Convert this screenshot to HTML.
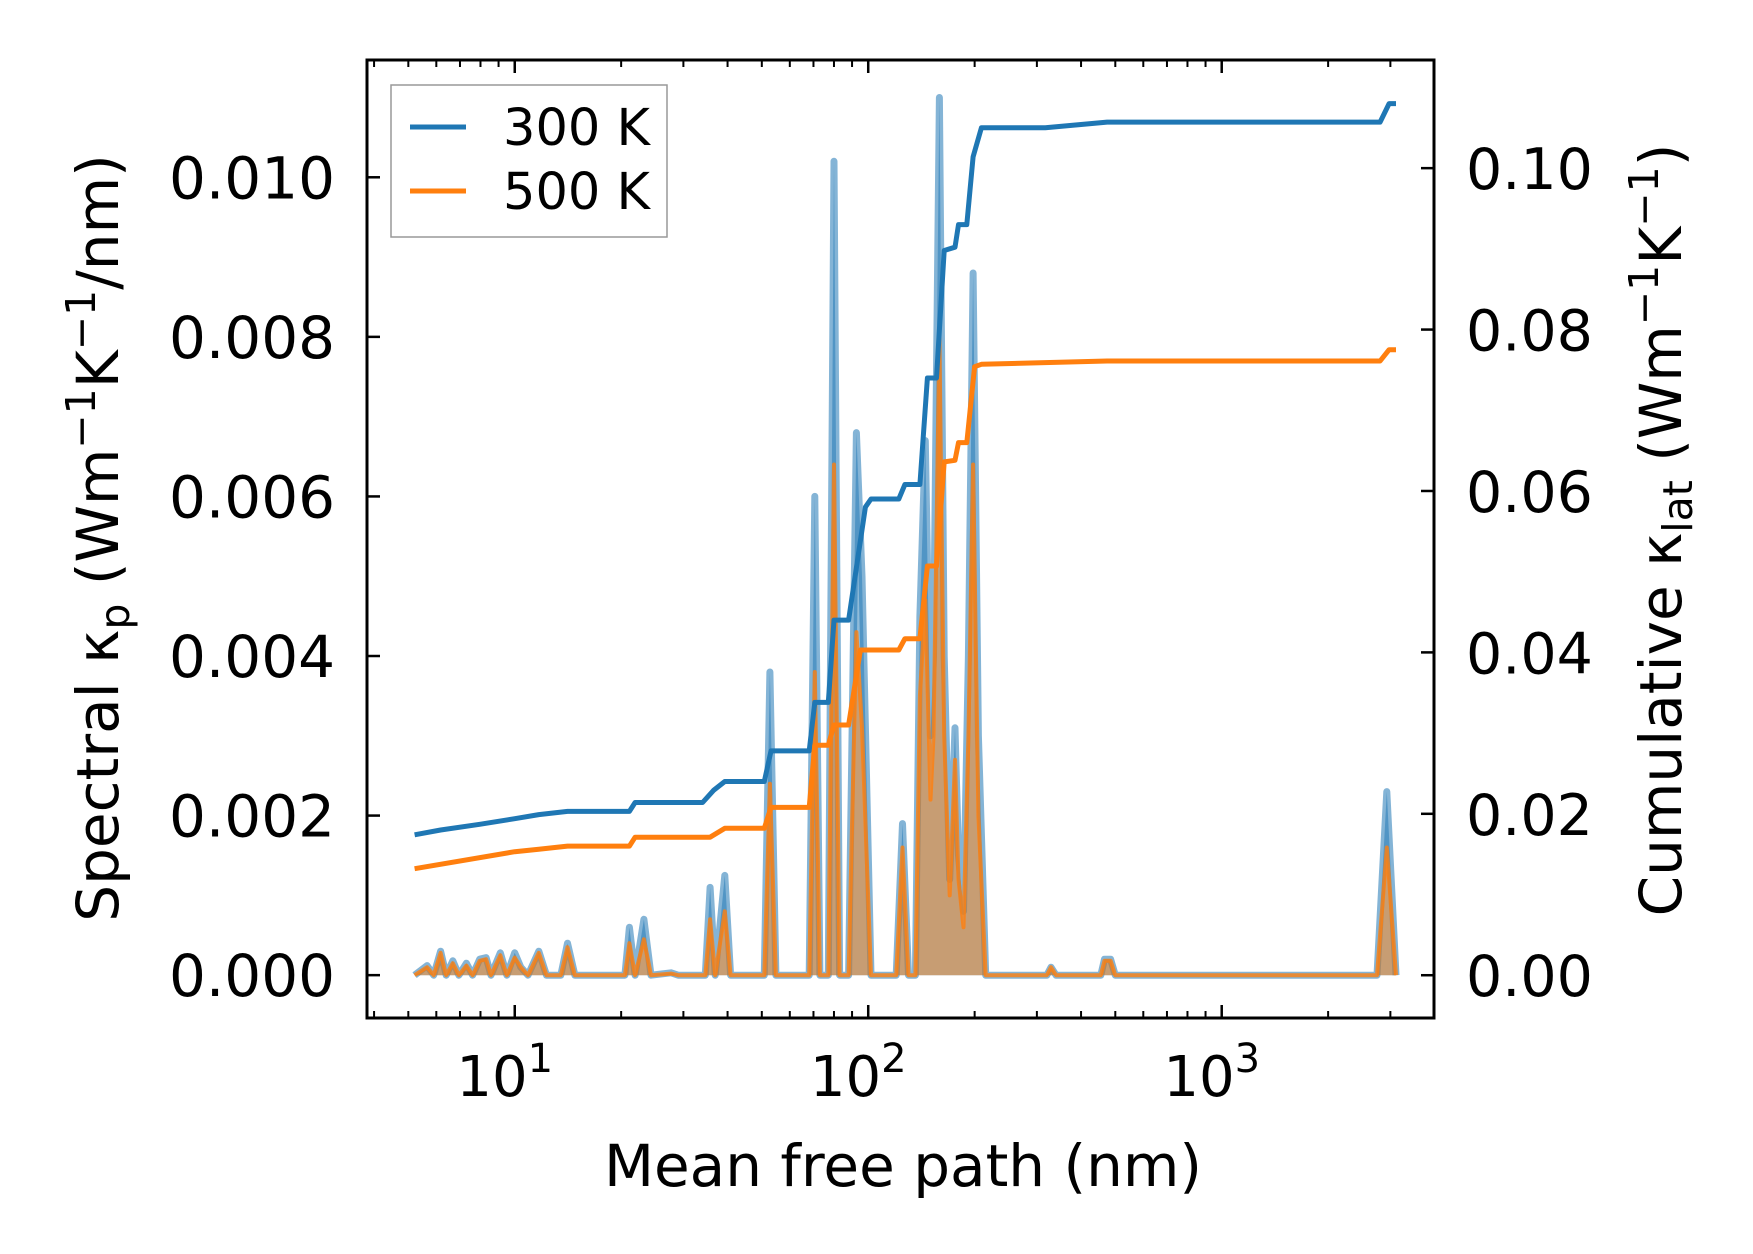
<!DOCTYPE html>
<html><head><meta charset="utf-8"><style>
html,body{margin:0;padding:0;background:#fff}
svg{display:block}
text{font-family:"DejaVu Sans","Liberation Sans",sans-serif;fill:#000}
</style></head><body>
<svg id="chart" width="1753" height="1254" viewBox="0 0 1753 1254" xmlns="http://www.w3.org/2000/svg">
<g id="marks"></g>
<g id="axes"></g>
</svg>
<script>
const specMfp=[5.21,5.65,5.9,6.17,6.4,6.68,6.95,7.3,7.6,7.96,8.3,8.57,9.1,9.5,10,10.4,10.9,11.7,12.3,13.5,14.1,14.8,20.5,21.1,21.9,23.2,24.3,27.7,29,34.6,35.7,36.9,39.3,40.8,50.8,52.7,54.8,68.1,70.6,73,77.1,80,83,88,92.6,96,101.8,106,120,125,130,136,140,145,150,153,159,164,170,176,180,186,192,198,205,215,320,329,340,455,466,485,500,2750,2931,3111];
const spec300=[0,0.00012,0,0.0003,0,0.00018,0,0.00015,0,0.0002,0.00022,0,0.00028,0,0.00028,0.0001,0,0.0003,0,0,0.0004,0,0,0.0006,0,0.0007,0,0.00003,0,0,0.0011,0,0.00125,0,0,0.0038,0,0,0.006,0,0,0.0102,0,0,0.0068,0.005,0,0,0,0.0019,0,0,0.0045,0.0067,0.003,0.004,0.011,0.004,0.0012,0.0031,0.0015,0.0008,0.004,0.0088,0.003,0,0,0.0001,0,0,0.0002,0.0002,0,0,0.0023,0];
const spec500=[0,0.0001,0,0.00028,0,0.00015,0,0.00012,0,0.00018,0.0002,0,0.00025,0,0.00022,0.0001,0,0.00028,0,0,0.00035,0,0,0.0004,0,0.00045,0,0.00002,0,0,0.0007,0,0.0008,0,0,0.0024,0,0,0.0038,0,0,0.0064,0,0,0.0043,0.0031,0,0,0,0.0016,0,0,0.0035,0.0047,0.0022,0.003,0.008,0.003,0.001,0.0027,0.0012,0.0006,0.003,0.0064,0.002,0,0,0.0001,0,0,0.00018,0.00018,0,0,0.0016,0];
const cumMfp300=[5.21,6.17,7.96,10,11.7,14.1,21.1,21.9,34,36.5,39.3,50.8,53.1,68.1,70.6,77.1,80,88,98.2,101.8,122,127,140,147,156,164,176,180,190,198,209,317,474,2805,2976,3111];
const cum300=[0.0174,0.018,0.0187,0.0194,0.0199,0.0203,0.0203,0.0214,0.0214,0.0229,0.024,0.024,0.0278,0.0278,0.0338,0.0338,0.044,0.044,0.058,0.059,0.059,0.0608,0.0608,0.074,0.074,0.0898,0.0902,0.093,0.093,0.1014,0.105,0.105,0.1057,0.1057,0.108,0.108];
const cumMfp500=[5.21,10,11.7,14.1,21.1,21.9,35.7,39.3,50.8,53.1,68.1,70.6,77.1,80,88,95,122,127,140,147,156,164,176,180,190,200,209,474,2805,2976,3111];
const cum500=[0.0132,0.0153,0.0156,0.016,0.016,0.0171,0.0171,0.0182,0.0182,0.0208,0.0208,0.0285,0.0285,0.031,0.031,0.0403,0.0403,0.0417,0.0417,0.0507,0.0507,0.0636,0.0638,0.066,0.066,0.0754,0.0757,0.0761,0.0761,0.0775,0.0775];
const leftTicks=[0,0.002,0.004,0.006,0.008,0.010];
const leftLabels=["0.000","0.002","0.004","0.006","0.008","0.010"];
const rightTicks=[0,0.02,0.04,0.06,0.08,0.10];
const rightLabels=["0.00","0.02","0.04","0.06","0.08","0.10"];
const xDecades=[1,2,3];

const L=367,R=1434,T=60,B=1018;
const xMin=Math.log10(3.82),xMax=Math.log10(3986);
const X=v=>L+(Math.log10(v)-xMin)/(xMax-xMin)*(R-L);
const yl0=-0.000537,yl1=0.01147,yr0=-0.0053,yr1=0.1134;
const YL=v=>B-(v-yl0)/(yl1-yl0)*(B-T);
const YR=v=>B-(v-yr0)/(yr1-yr0)*(B-T);
const NS="http://www.w3.org/2000/svg";
function mk(tag,attrs,parent,text){const e=document.createElementNS(NS,tag);for(const k in attrs)e.setAttribute(k,attrs[k]);if(text!==undefined)e.textContent=text;parent.appendChild(e);return e;}
const marks=document.getElementById('marks'),axes=document.getElementById('axes');

function specPath(vals){return specMfp.map((m,i)=>(i?'L':'M')+X(m).toFixed(1)+','+YL(vals[i]).toFixed(1)).join(' ');}
function fillPath(vals){return specPath(vals)+' L'+X(specMfp[specMfp.length-1]).toFixed(1)+','+YL(0).toFixed(1)+' L'+X(specMfp[0]).toFixed(1)+','+YL(0).toFixed(1)+' Z';}
let e;
e=mk('path',{d:fillPath(spec300),fill:'rgba(31,119,180,0.5)',stroke:'none'},marks);

e=mk('path',{d:specPath(spec300),fill:'none',stroke:'rgba(31,119,180,0.55)','stroke-width':7,'stroke-linejoin':'round'},marks);

e=mk('path',{d:fillPath(spec500),fill:'rgba(255,127,14,0.5)',stroke:'none'},marks);

e=mk('path',{d:specPath(spec500),fill:'none',stroke:'rgba(255,127,14,0.8)','stroke-width':4,'stroke-linejoin':'round'},marks);

function cumPath(ms,vals){return ms.map((m,i)=>(i?'L':'M')+X(m).toFixed(1)+','+YR(vals[i]).toFixed(1)).join(' ');}
e=mk('path',{d:cumPath(cumMfp300,cum300),fill:'none',stroke:'#1f77b4','stroke-width':5,'stroke-linejoin':'round'},marks);

e=mk('path',{d:cumPath(cumMfp500,cum500),fill:'none',stroke:'#ff7f0e','stroke-width':5,'stroke-linejoin':'round'},marks);


e=mk('rect',{x:L,y:T,width:R-L,height:B-T,fill:'none',stroke:'#000','stroke-width':3},axes);

leftTicks.forEach((v,i)=>{const y=YL(v);
 mk('line',{x1:L,x2:L+13,y1:y,y2:y,stroke:'#000','stroke-width':2.5},axes);
 const t=mk('text',{x:335,y:y+21,'font-size':58,'text-anchor':'end'},axes,leftLabels[i]);
 });
rightTicks.forEach((v,i)=>{const y=YR(v);
 mk('line',{x1:R-13,x2:R,y1:y,y2:y,stroke:'#000','stroke-width':2.5},axes);
 const t=mk('text',{x:1466,y:y+21,'font-size':57},axes,rightLabels[i]);
 });
for(let d=0;d<=3;d++){for(let k=1;k<10;k++){const v=k*Math.pow(10,d);const x=X(v);if(x<L||x>R)continue;
 const len=k===1?13:7;
 mk('line',{x1:x,x2:x,y1:B,y2:B-len,stroke:'#000','stroke-width':k===1?2.5:2},axes);
 mk('line',{x1:x,x2:x,y1:T,y2:T+len,stroke:'#000','stroke-width':k===1?2.5:2},axes);}}
xDecades.forEach(d=>{const x=X(Math.pow(10,d));
 const t=mk('text',{x:x-10,y:1096,'font-size':56,'text-anchor':'middle'},axes);
 
 mk('tspan',{},t,'10');mk('tspan',{dy:-24,'font-size':40},t,String(d));});
e=mk('text',{x:903,y:1186,'font-size':58,'text-anchor':'middle'},axes,'Mean free path (nm)');

e=mk('text',{x:0,y:0,'font-size':58,'text-anchor':'middle',transform:'translate(118,538) rotate(-90)'},axes);

e.innerHTML='Spectral κ<tspan dy="11" font-size="41">p</tspan><tspan dy="-11"> (Wm</tspan><tspan dy="-23" font-size="41">−1</tspan><tspan dy="23">K</tspan><tspan dy="-23" font-size="41">−1</tspan><tspan dy="23">/nm)</tspan>';
e=mk('text',{x:0,y:0,'font-size':58,'text-anchor':'middle',transform:'translate(1681,530) rotate(-90)'},axes);

e.innerHTML='Cumulative κ<tspan dy="11" font-size="41">lat</tspan><tspan dy="-11"> (Wm</tspan><tspan dy="-23" font-size="41">−1</tspan><tspan dy="23">K</tspan><tspan dy="-23" font-size="41">−1</tspan><tspan dy="23">)</tspan>';
const lg=mk('g',{},axes);

mk('rect',{x:391,y:85,width:276,height:152,fill:'#fff',stroke:'#999','stroke-width':1.5},lg);
[['300 K','#1f77b4',127],['500 K','#ff7f0e',191]].forEach(([lab,c,y])=>{
 const g=mk('g',{},lg);
 
 mk('line',{x1:410,x2:466,y1:y,y2:y,stroke:c,'stroke-width':5},g);
 mk('text',{x:503,y:y+18,'font-size':51},g,lab);});
</script>
</body></html>
